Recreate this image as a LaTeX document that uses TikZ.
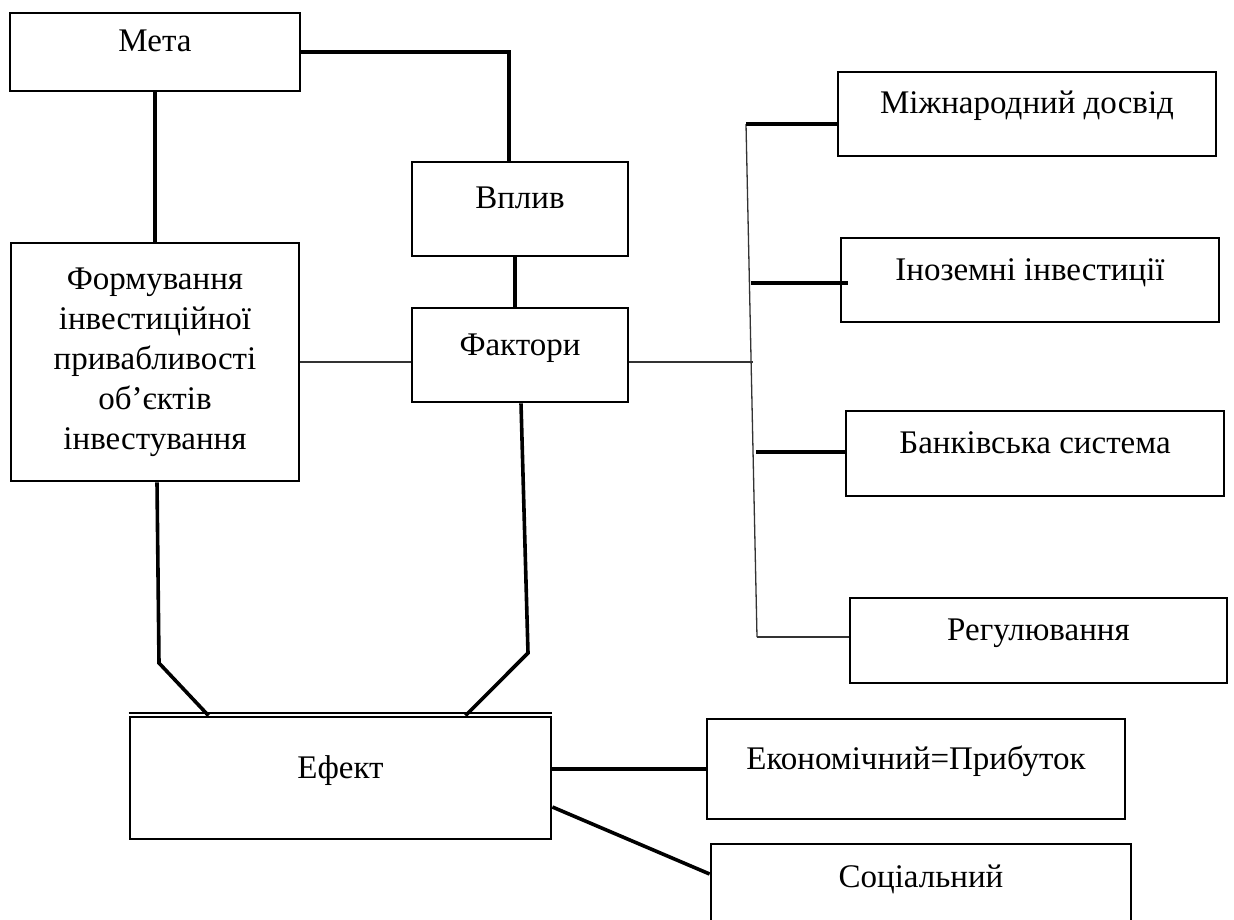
\documentclass[tikz,border=0pt]{standalone}
\usepackage{fontspec}
\setmainfont{Liberation Serif}
\begin{document}
\begin{tikzpicture}[x=1pt,y=-1pt,
    font=\fontsize{33}{40}\selectfont,
    frame/.style={draw,line width=2.8pt,inner sep=0pt},
    box/.style={frame,text height=12pt,text depth=12pt},
    link/.style={line width=3.6pt},
    boldlink/.style={line width=4.8pt},
    thinlink/.style={line width=1.3pt,black!80}]
  \useasboundingbox (0,0) rectangle (1234,920);

  \node[box,minimum width=290pt,minimum height=78pt] (meta) at (155,52) {Мета};
  \node[frame,align=center,minimum width=288pt,minimum height=238pt] (form) at (155,362)
    {Формування\\інвестиційної\\привабливості\\об’єктів\\інвестування};
  \node[box,minimum width=216pt,minimum height=94pt] (vpliv) at (520,209) {Вплив};
  \node[box,minimum width=216pt,minimum height=94pt] (faktory) at (520,355) {Фактори};

  \node[box,minimum width=378pt,minimum height=84pt] (mizh) at (1027,114) {Міжнародний досвід};
  \node[box,minimum width=378pt,minimum height=84pt] (inoz) at (1030,280) {Іноземні інвестиції};
  \node[box,minimum width=378pt,minimum height=85pt] (bank) at (1035,453.5) {Банківська система};
  \node[box,minimum width=377pt,minimum height=85pt] (regul) at (1038.5,640.5) {Регулювання};

  \node[box,minimum width=421pt,minimum height=122pt] (efekt) at (340.5,778) {Ефект};
  \node[box,minimum width=418pt,minimum height=100pt] (ekon) at (916,769) {Економічний=Прибуток};
  \node[box,minimum width=420pt,minimum height=86pt] (social) at (921,887) {Соціальний};

  \draw[link] (meta.east) -| ([xshift=-11pt]vpliv.north);
  \draw[link] (meta) -- (form);
  \draw[boldlink] ([xshift=-5pt]vpliv.south) -- ([xshift=-5pt]faktory.north);
  \draw[thinlink] (form.east) -- (form.east -| faktory.west);

  \coordinate (b1) at (746,124);
  \coordinate (b2) at (751,283);
  \coordinate (bf) at (753,362);
  \coordinate (b3) at (756,452);
  \coordinate (b4) at (757,637);
  \draw[thinlink] (b1) -- (b4);
  \draw[thinlink] (faktory.east |- bf) -- (bf);
  \draw[boldlink] (b1) -- (b1 -| mizh.west);
  \draw[boldlink] (b2) -- (b2 -| inoz.west) -- ++(8,0);
  \draw[boldlink] (b3) -- (b3 -| bank.west);
  \draw[thinlink] (b4) -- (b4 -| regul.west);

  \coordinate (k1) at (159,663);
  \coordinate (k2) at (528,653);
  \draw[link] ([xshift=2pt]form.south) -- (k1) -- ([xshift=-132pt]efekt.north);
  \draw[link] ([xshift=1pt]faktory.south) -- (k2) -- ([xshift=125pt]efekt.north);
  \draw[line width=1.5pt] ([yshift=2.5pt]efekt.north west) -- ([yshift=2.5pt]efekt.north east);

  \draw[boldlink] (efekt.east |- ekon) -- (ekon.west);
  \draw[link] ([yshift=-29pt]efekt.east) -- ([yshift=13pt]social.west);
\end{tikzpicture}
\end{document}
